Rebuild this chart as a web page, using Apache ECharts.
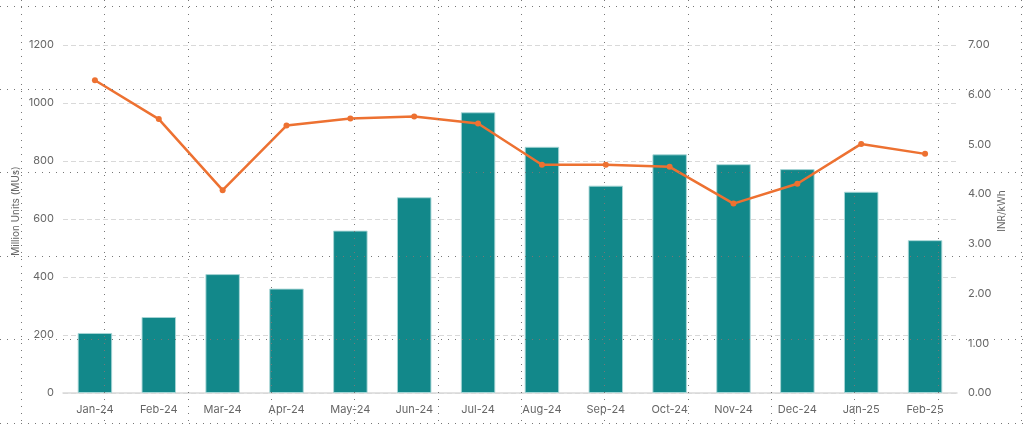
<!DOCTYPE html>
<html>
<head>
<meta charset="utf-8">
<script src="https://cdn.jsdelivr.net/npm/echarts@6/dist/echarts.min.js"></script>
<style>
html,body{margin:0;padding:0;background:#fff;}
#c{width:1024px;height:426px;}
</style>
</head>
<body>
<div id="c"></div>
<script>
const categories = ['Jan-24','Feb-24','Mar-24','Apr-24','May-24','Jun-24','Jul-24','Aug-24','Sep-24','Oct-24','Nov-24','Dec-24','Jan-25','Feb-25'];
const volumeMUs = [207, 262, 410, 360, 560, 675, 968, 849, 715, 823, 789, 772, 694, 527];
const priceINR = [6.29, 5.51, 4.08, 5.38, 5.52, 5.56, 5.42, 4.59, 4.59, 4.55, 3.81, 4.21, 5.01, 4.81];
const leftTicks = { min: 0, max: 1200, interval: 200 };
const rightTicks = { min: 0, max: 7, interval: 1 };

const chart = echarts.init(document.getElementById('c'));
const W = 1024, H = 426;

// decorative dotted overlay grid seen in the reference
const overlay = [];
for (let k = 0; k <= 12; k++) {
  const x = Math.round(21 + 83.33 * k) + 0.5;
  overlay.push({ type: 'line', silent: true, z: 100,
    shape: { x1: x, y1: 0, x2: x, y2: H },
    style: { stroke: '#777', lineWidth: 1, lineDash: [1, 6] } });
}
for (let k = 0; k <= 5; k++) {
  const y = Math.round(5.5 + 83.45 * k) + 0.5;
  overlay.push({ type: 'line', silent: true, z: 100,
    shape: { x1: 0, y1: y, x2: W, y2: y },
    style: { stroke: '#777', lineWidth: 1, lineDash: [1, 6] } });
}

const font = 'Inter, "Noto Sans", sans-serif';
chart.setOption({
  animation: false,
  textStyle: { fontFamily: font },
  graphic: overlay,
  grid: { left: 63, right: 67, top: 45, bottom: 33, containLabel: false },
  xAxis: {
    type: 'category',
    data: categories,
    axisLine: { show: true, lineStyle: { color: '#d9d9d9', width: 1.5 } },
    axisTick: { show: false },
    axisLabel: { color: '#666', fontSize: 11, margin: 11, fontFamily: font }
  },
  yAxis: [
    {
      type: 'value', min: leftTicks.min, max: leftTicks.max, interval: leftTicks.interval,
      name: 'Million Units (MUs)', nameLocation: 'middle', nameGap: 42, nameRotate: 90,
      nameMoveOverlap: false,
      nameTextStyle: { color: '#666', fontSize: 10, fontFamily: font, padding: [0, 0, 0, 16] },
      axisLine: { show: false }, axisTick: { show: false },
      axisLabel: { color: '#666', fontSize: 11, margin: 9, fontFamily: font,
        formatter: v => String(v) },
      splitLine: { show: true, lineStyle: { color: '#d9d9d9', type: [5, 3], width: 1 } }
    },
    {
      type: 'value', min: rightTicks.min, max: rightTicks.max, interval: rightTicks.interval,
      name: 'INR/kWh', nameLocation: 'middle', nameGap: 40, nameRotate: 90,
      nameMoveOverlap: false,
      nameTextStyle: { color: '#666', fontSize: 10, fontFamily: font, padding: [0, 0, 0, 16] },
      axisLine: { show: false }, axisTick: { show: false },
      axisLabel: { color: '#666', fontSize: 11, margin: 11, fontFamily: font,
        formatter: v => v.toFixed(2) },
      splitLine: { show: false }
    }
  ],
  series: [
    {
      type: 'bar', yAxisIndex: 0, data: volumeMUs, barWidth: '54%',
      itemStyle: { color: '#12888a', borderColor: 'rgba(170,215,215,0.9)', borderWidth: 1 },
      z: 2
    },
    {
      type: 'line', yAxisIndex: 1, data: priceINR,
      symbol: 'circle', symbolSize: 6,
      lineStyle: { color: '#ed7131', width: 2.5 },
      itemStyle: { color: '#ed7131' },
      z: 3
    }
  ]
});
</script>
</body>
</html>
